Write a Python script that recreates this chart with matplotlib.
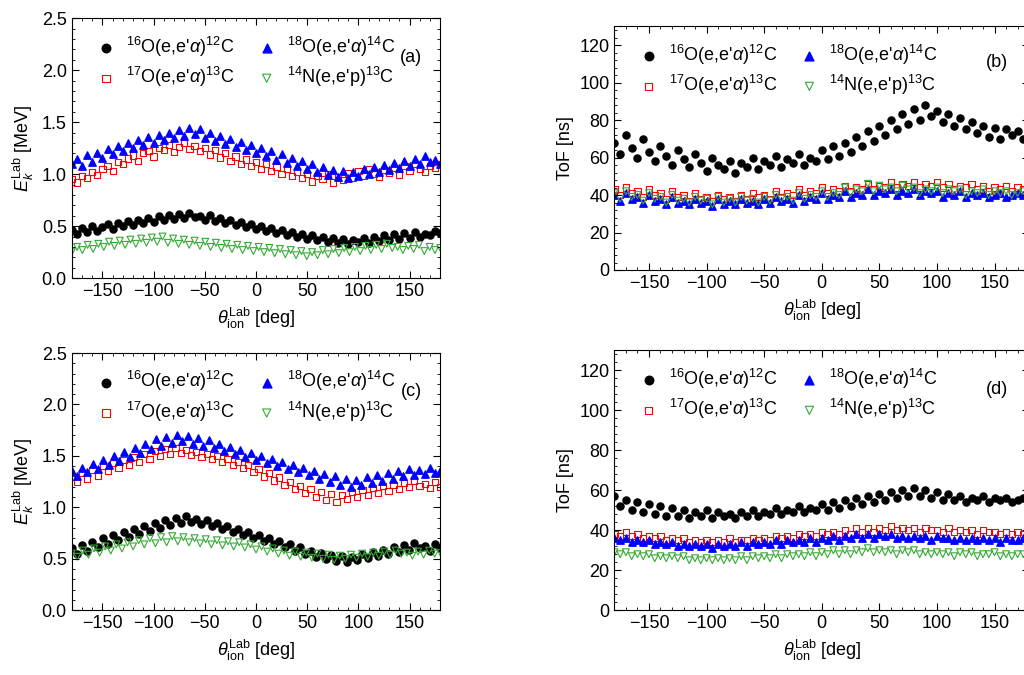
import numpy as np
import matplotlib
matplotlib.use("Agg")
import matplotlib.pyplot as plt
from matplotlib.ticker import MultipleLocator

plt.rcParams['font.family'] = ['Liberation Sans', 'DejaVu Sans']
plt.rcParams['mathtext.fontset'] = 'custom'
plt.rcParams['mathtext.rm'] = 'Liberation Sans'
plt.rcParams['mathtext.it'] = 'Liberation Sans:italic'
plt.rcParams['font.size'] = 13

labels = [r"$^{16}$O(e,e'$\alpha$)$^{12}$C", r"$^{17}$O(e,e'$\alpha$)$^{13}$C",
          r"$^{18}$O(e,e'$\alpha$)$^{14}$C", r"$^{14}$N(e,e'p)$^{13}$C"]

# panel (a): kinetic energy [MeV]
a_o16 = [.46,.42,.48,.44,.50,.45,.49,.52,.47,.53,.50,.55,.51,.56,.53,.58,.54,.60,.56,.61,.57,.62,.58,.63,.59,
         .60,.56,.61,.55,.58,.53,.56,.51,.54,.49,.52,.47,.50,.45,.48,.43,.46,.41,.44,.40,.42,.38,
         .41,.37,.40,.35,.39,.34,.38,.33,.37,.35,.39,.34,.40,.36,.41,.37,.42,.38,.43,.39,.44,.40,.42,.41,.45,.43]
a_o17 = [.95,.92,.98,.96,1.02,.99,1.05,1.08,1.03,1.12,1.10,1.15,1.18,1.13,1.20,1.22,1.17,1.25,1.23,1.28,1.21,1.26,1.30,1.24,1.27,
         1.22,1.25,1.19,1.23,1.16,1.20,1.13,1.17,1.10,1.14,1.08,1.12,1.05,1.10,1.03,1.07,1.00,1.05,.98,1.02,.96,1.00,.93,
         .98,.95,1.00,.92,.97,.94,1.01,.96,1.03,.98,1.05,1.00,.97,1.04,1.01,1.06,.99,1.08,1.03,1.10,1.05,1.02,1.08,1.06,1.10]
a_o18 = [1.10,1.15,1.08,1.18,1.12,1.20,1.16,1.24,1.19,1.27,1.22,1.30,1.25,1.33,1.28,1.36,1.30,1.38,1.33,1.40,1.35,1.42,1.37,1.44,1.39,
         1.43,1.35,1.40,1.32,1.37,1.29,1.34,1.26,1.31,1.23,1.28,1.20,1.25,1.17,1.22,1.14,1.19,1.11,1.16,1.08,1.13,1.05,1.10,
         1.02,1.07,.99,1.04,.97,1.03,.96,1.02,.98,1.05,1.00,1.07,1.02,1.09,1.04,1.11,1.06,1.13,1.08,1.15,1.10,1.17,1.12,1.14,1.10]
a_n14 = [.25,.30,.27,.32,.28,.33,.30,.35,.31,.36,.32,.37,.33,.38,.34,.39,.35,.40,.34,.38,.33,.37,.32,.36,.31,.35,.30,.34,
         .29,.33,.28,.32,.27,.31,.26,.30,.25,.29,.24,.28,.23,.27,.22,.26,.21,.25,.22,.27,.23,.28,.24,.29,.25,.30,.26,.31,
         .27,.32,.28,.33,.29,.30,.27,.31,.28,.32,.26,.30,.27,.29]

# panel (b): time of flight [ns]
b_o16 = [68,62,72,65,60,70,63,58,66,61,56,64,59,55,62,57,53,60,56,54,58,52,57,55,60,54,58,56,61,55,59,57,62,56,60,58,
         64,59,66,61,68,63,71,66,74,69,77,72,80,75,83,78,86,80,88,82,85,79,83,77,81,75,79,73,77,71,76,70,75,72,74,70,73]
b_o17 = [43,40,44,41,42,39,43,40,41,38,42,39,40,37,41,38,39,37,40,38,39,37,40,38,41,39,40,38,42,39,41,40,43,40,42,41,
         44,41,43,42,45,42,44,43,46,43,45,44,47,44,46,45,47,44,46,45,47,44,46,43,45,44,46,43,45,42,44,43,45,42,44,43,44]
b_o18 = [40,37,41,38,39,36,40,37,38,35,39,36,37,35,38,36,37,34,38,35,37,35,38,36,37,35,38,36,39,37,38,36,40,37,39,38,
         41,38,40,39,42,39,41,40,43,40,42,41,43,40,42,41,43,40,42,41,42,39,41,40,42,39,41,40,41,39,40,41,39,40,41,40,40]
b_n14 = [41,38,42,39,40,37,41,38,39,36,40,37,38,36,39,37,38,35,39,36,38,36,39,37,38,36,39,37,40,38,39,37,41,38,40,39,
         42,39,41,40,44,41,43,42,46,42,45,43,44,42,45,43,44,41,43,42,44,41,43,42,43,40,42,41,43,40,42,41,42,40,41,42,41]

# panel (c): kinetic energy [MeV]
c_o16 = [.60,.55,.63,.58,.66,.61,.70,.64,.73,.68,.76,.71,.79,.74,.82,.77,.85,.80,.88,.83,.90,.85,.92,.86,.89,.84,.88,.82,
         .85,.79,.82,.76,.79,.73,.76,.70,.73,.67,.70,.64,.67,.61,.64,.58,.61,.55,.58,.52,.56,.50,.54,.48,.53,.47,.52,.49,
         .55,.51,.57,.53,.59,.55,.61,.57,.63,.59,.65,.60,.62,.58,.64,.60]
c_o17 = [1.30,1.25,1.33,1.28,1.36,1.31,1.40,1.35,1.43,1.38,1.46,1.41,1.49,1.44,1.52,1.47,1.55,1.50,1.57,1.52,1.58,1.53,
         1.56,1.51,1.54,1.49,1.52,1.47,1.50,1.44,1.47,1.41,1.44,1.38,1.41,1.34,1.37,1.30,1.33,1.26,1.29,1.22,1.25,1.18,
         1.21,1.14,1.18,1.10,1.15,1.07,1.13,1.05,1.12,1.08,1.15,1.10,1.17,1.12,1.19,1.14,1.21,1.16,1.22,1.18,1.24,1.20,
         1.26,1.21,1.23,1.19,1.25,1.20]
c_o18 = [1.35,1.30,1.38,1.34,1.42,1.37,1.46,1.41,1.50,1.45,1.54,1.49,1.58,1.53,1.62,1.57,1.66,1.60,1.68,1.63,1.70,1.64,
         1.69,1.62,1.67,1.60,1.65,1.58,1.62,1.55,1.59,1.52,1.56,1.49,1.53,1.46,1.50,1.43,1.47,1.40,1.44,1.37,1.41,1.34,
         1.38,1.31,1.35,1.28,1.32,1.25,1.30,1.22,1.28,1.20,1.27,1.22,1.29,1.24,1.31,1.26,1.33,1.28,1.35,1.30,1.37,1.31,
         1.36,1.32,1.38,1.33,1.35]
c_n14 = [.55,.52,.58,.54,.60,.56,.62,.58,.64,.60,.66,.62,.68,.64,.70,.65,.71,.66,.72,.67,.71,.66,.70,.65,.69,.64,.68,.63,
         .67,.62,.66,.61,.64,.59,.62,.57,.60,.55,.58,.53,.57,.52,.56,.51,.55,.50,.54,.49,.53,.50,.54,.51,.55,.52,.56,.53,
         .57,.54,.58,.55,.56,.53,.57,.54,.58,.55,.56]

# panel (d): time of flight [ns]
d_o16 = [57,52,55,50,54,49,53,48,52,47,51,47,50,46,49,47,50,46,49,47,48,46,49,47,50,47,49,48,51,48,50,49,52,49,51,50,
         53,50,54,51,55,52,56,53,57,54,58,55,59,56,60,57,61,57,60,56,59,55,58,55,57,54,56,55,57,54,56,55,56,54,55,56,55]
d_o17 = [38,37,39,37,38,36,37,36,37,35,36,35,36,34,35,34,35,34,35,34,36,34,35,35,36,35,36,35,37,36,37,36,38,37,38,37,
         39,38,39,38,40,38,41,39,41,39,41,40,42,40,41,40,41,39,41,40,40,39,41,39,40,39,40,38,40,39,39,38,39,38,39,38,38]
d_o18 = [36,35,36,34,35,34,35,33,34,33,34,32,33,32,33,32,33,31,33,32,33,32,34,32,34,33,34,33,35,33,35,34,35,34,36,34,
         36,35,37,35,37,36,38,36,38,36,38,37,38,36,37,36,37,36,37,35,37,36,36,35,36,35,36,35,36,35,36,34,36,35,35,36,35]
d_n14 = [29,28,29,27,28,27,28,26,27,26,27,26,27,25,26,25,26,25,26,25,26,25,27,25,27,26,27,26,28,26,28,27,28,27,29,27,
         29,28,30,28,30,28,30,29,31,29,30,29,30,28,30,29,30,28,29,28,29,28,29,27,29,28,29,27,28,28,29,27,28,27,28,28,28]

styles = [dict(marker='o', color='black', s=26),
          dict(marker='s', facecolors='none', edgecolors='red', s=20, linewidths=0.8),
          dict(marker='^', color='blue', s=28),
          dict(marker='v', facecolors='none', edgecolors='#33aa33', s=24, linewidths=0.8)]

fig = plt.figure(figsize=(10.24, 6.75), dpi=100)
panels = [
    ([0.070, 0.588, 0.360, 0.385], [a_o16, a_o17, a_o18, a_n14], (0, 2.5), 0.5, r"$E_k^{\rm Lab}$ [MeV]", '(a)'),
    ([0.600, 0.600, 0.405, 0.361], [b_o16, b_o17, b_o18, b_n14], (0, 130), 20, "ToF [ns]", '(b)'),
    ([0.070, 0.096, 0.360, 0.381], [c_o16, c_o17, c_o18, c_n14], (0, 2.5), 0.5, r"$E_k^{\rm Lab}$ [MeV]", '(c)'),
    ([0.600, 0.096, 0.405, 0.385], [d_o16, d_o17, d_o18, d_n14], (0, 130), 20, "ToF [ns]", '(d)'),
]

for rect, series, ylim, ystep, ylabel, tag in panels:
    ax = fig.add_axes(rect)
    for vals, st, lab in zip(series, styles, labels):
        x = np.linspace(-180, 180, len(vals))
        ax.scatter(x, vals, label=lab, **st)
    ax.set_xlim(-180, 180)
    ax.set_ylim(*ylim)
    ax.xaxis.set_major_locator(MultipleLocator(50))
    ax.xaxis.set_minor_locator(MultipleLocator(10))
    ax.yaxis.set_major_locator(MultipleLocator(ystep))
    ax.yaxis.set_minor_locator(MultipleLocator(ystep / 5))
    ax.tick_params(which='both', direction='in', top=True, right=True)
    ax.tick_params(which='major', length=5)
    ax.tick_params(which='minor', length=2.5)
    ax.set_ylabel(ylabel)
    ax.set_xlabel(r"$\theta_{\rm ion}^{\rm Lab}$ [deg]")
    ax.legend(ncol=2, loc='upper left', frameon=False, handletextpad=0.1,
              columnspacing=0.8, borderaxespad=0.5, labelspacing=0.35, markerscale=1.2)
    ax.text(0.95, 0.85, tag, transform=ax.transAxes, ha='right', va='center')

fig.savefig('out.png', dpi=100)
